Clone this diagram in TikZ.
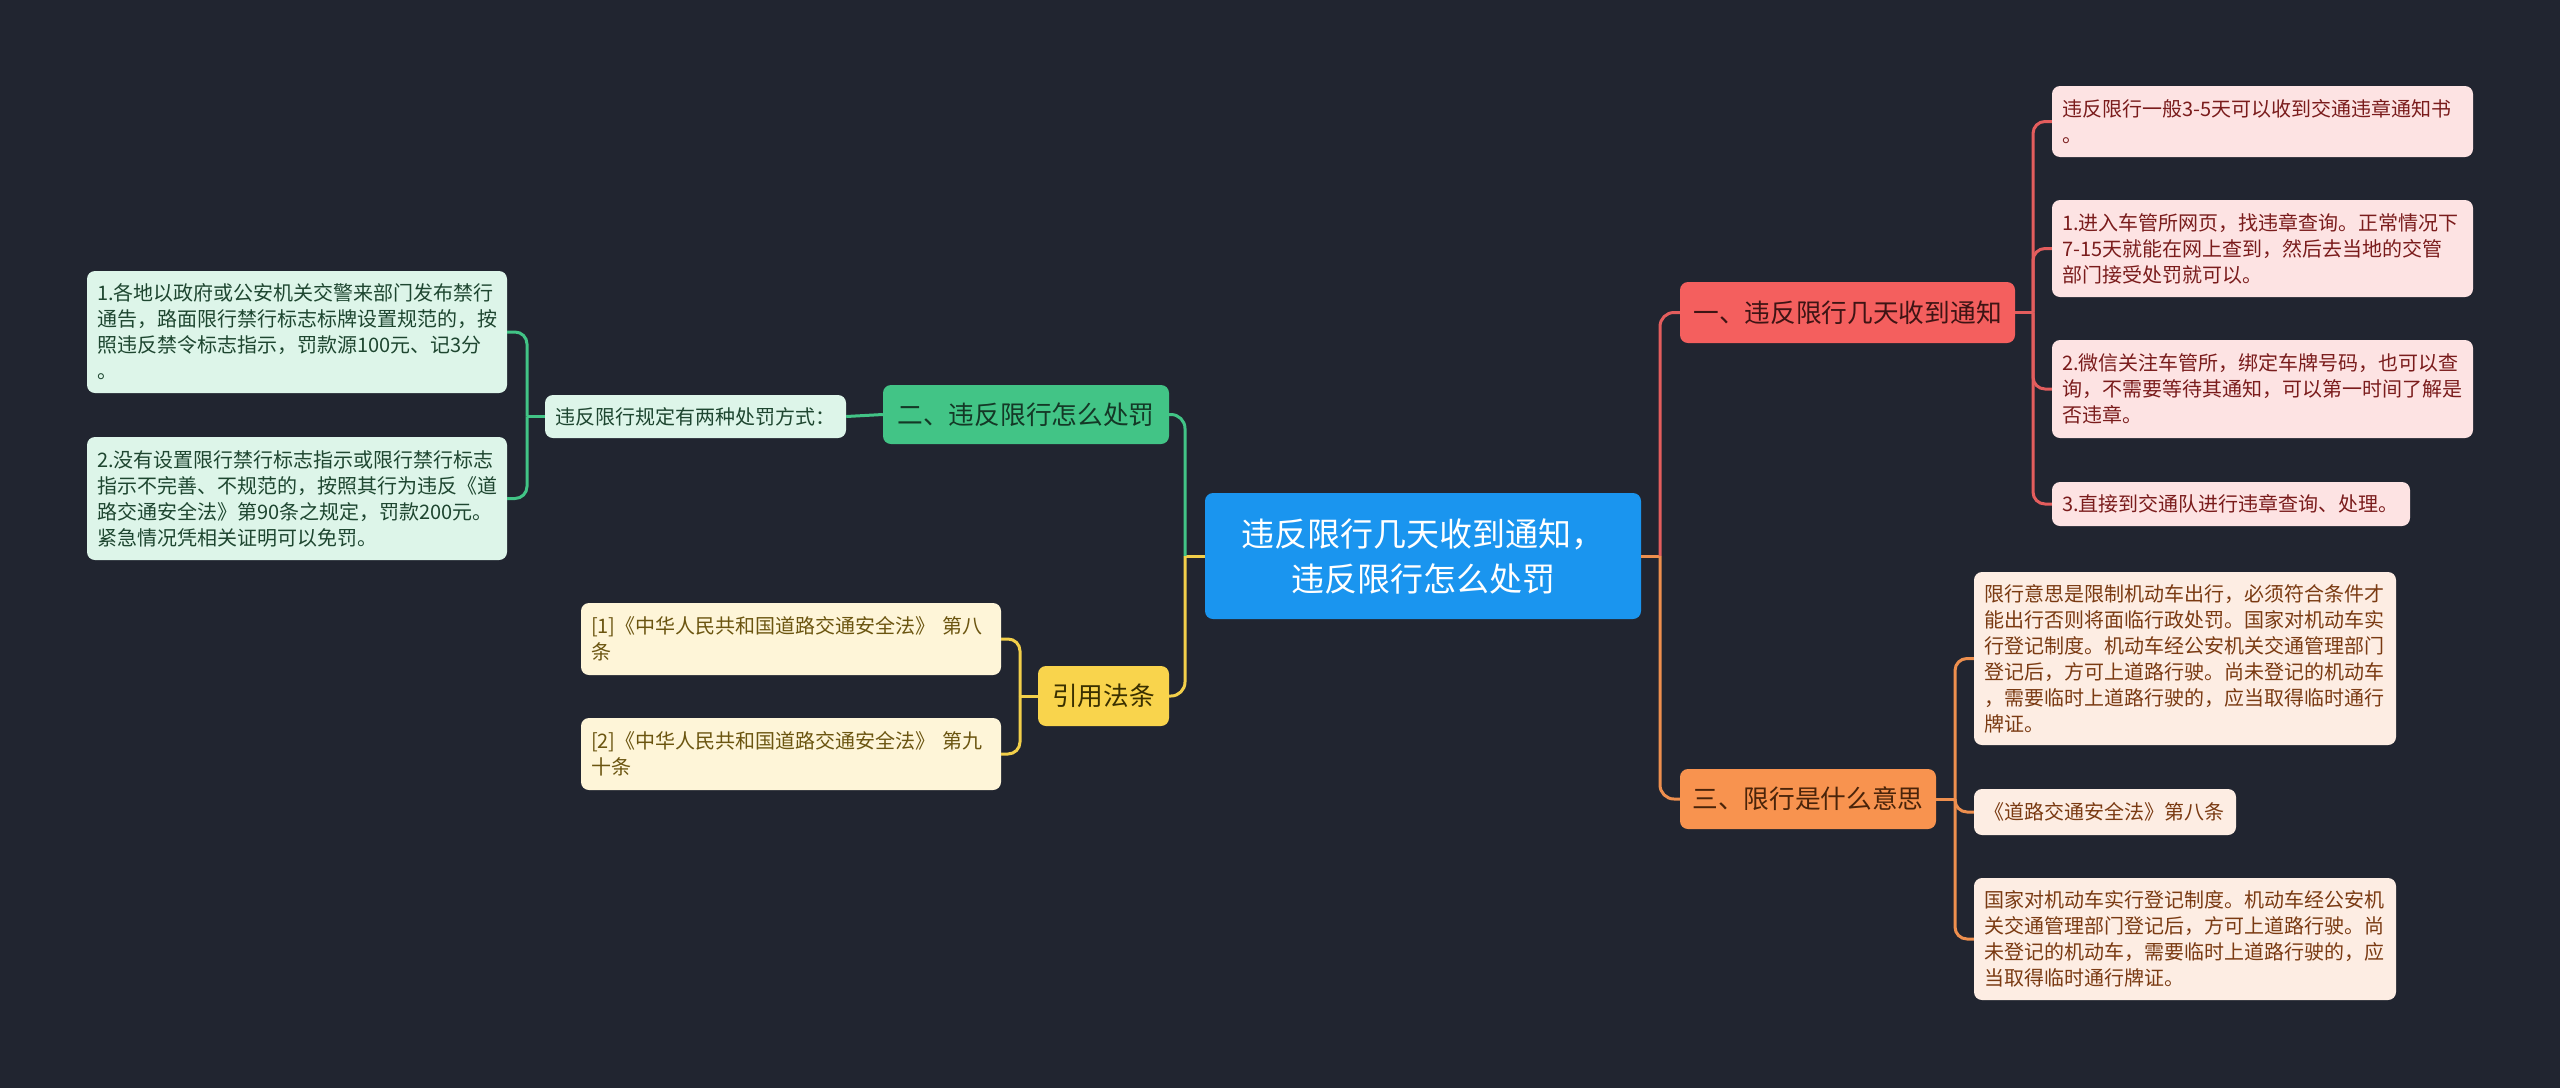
\documentclass[tikz,border=0pt]{standalone}
\usepackage{fontspec}
\setmainfont{Noto Sans CJK SC}
\definecolor{bgc}{HTML}{212530}
\definecolor{cen}{HTML}{1A95EF}
\definecolor{redb}{HTML}{F45F5E}
\definecolor{redt}{HTML}{3E1414}
\definecolor{orab}{HTML}{F8934F}
\definecolor{orat}{HTML}{4A240A}
\definecolor{greb}{HTML}{42C486}
\definecolor{gret}{HTML}{143826}
\definecolor{yelb}{HTML}{F9D44C}
\definecolor{yelt}{HTML}{3A3000}
\definecolor{redc}{HTML}{FDE3E3}
\definecolor{redct}{HTML}{7A1C1C}
\definecolor{orac}{HTML}{FDEDE3}
\definecolor{oract}{HTML}{7A3A12}
\definecolor{grec}{HTML}{DDF5E9}
\definecolor{grect}{HTML}{1E4630}
\definecolor{yelc}{HTML}{FEF5D8}
\definecolor{yelct}{HTML}{6B5510}
\definecolor{redl}{HTML}{E35D5D}
\definecolor{oral}{HTML}{EE8F4E}
\definecolor{grel}{HTML}{42C486}
\definecolor{yell}{HTML}{F2CF4A}
\tikzset{
  box/.style={rounded corners=8pt, inner xsep=10pt, inner ysep=0pt, align=left, anchor=center},
  kid/.style={box, font=\fontsize{20}{26}\selectfont},
  branch/.style={rounded corners=8pt, inner sep=0pt, align=center, font=\fontsize{25.7}{30}\selectfont},
  conn/.style={line width=3pt},
}
\begin{document}
\begin{tikzpicture}[x=1pt,y=-1pt]
\fill[bgc] (0,0) rectangle (2560,1088);
\useasboundingbox (0,0) rectangle (2560,1088);

% center
\node[rounded corners=8pt, fill=cen, text=white, minimum width=436pt, minimum height=126pt, inner sep=0pt, align=center, font=\fontsize{33}{45}\selectfont] (root) at (1423,556) {违反限行几天收到通知，\\违反限行怎么处罚};

% branches
\node[branch, fill=redb, text=redt, minimum width=335pt, minimum height=61pt] (b1) at (1847.5,312.5) {一、违反限行几天收到通知};
\node[branch, fill=orab, text=orat, minimum width=256pt, minimum height=60pt] (b3) at (1808,799) {三、限行是什么意思};
\node[branch, fill=greb, text=gret, minimum width=286pt, minimum height=59pt] (b2) at (1026,414.5) {二、违反限行怎么处罚};
\node[branch, fill=yelb, text=yelt, minimum width=131pt, minimum height=60pt] (b4) at (1103.5,696) {引用法条};

% branch 1 children
\node[kid, fill=redc, text=redct, text width=401pt, minimum height=71pt] (c1) at (2262.5,121.5) {违反限行一般3-5天可以收到交通违章通知书\\。};
\node[kid, fill=redc, text=redct, text width=401pt, minimum height=97pt] (c2) at (2262.5,248.5) {1.进入车管所网页，找违章查询。正常情况下\\7-15天就能在网上查到，然后去当地的交管\\部门接受处罚就可以。};
\node[kid, fill=redc, text=redct, text width=401pt, minimum height=98pt] (c3) at (2262.5,389) {2.微信关注车管所，绑定车牌号码，也可以查\\询，不需要等待其通知，可以第一时间了解是\\否违章。};
\node[kid, fill=redc, text=redct, text width=338pt, minimum height=44pt] (c4) at (2231,504) {3.直接到交通队进行违章查询、处理。};

% branch 3 children
\node[kid, fill=orac, text=oract, text width=402pt, minimum height=173pt] (d1) at (2185,658.5) {限行意思是限制机动车出行，必须符合条件才\\能出行否则将面临行政处罚。国家对机动车实\\行登记制度。机动车经公安机关交通管理部门\\登记后，方可上道路行驶。尚未登记的机动车\\，需要临时上道路行驶的，应当取得临时通行\\牌证。};
\node[kid, fill=orac, text=oract, text width=242pt, minimum height=46pt] (d2) at (2105,812) {《道路交通安全法》第八条};
\node[kid, fill=orac, text=oract, text width=402pt, minimum height=122pt] (d3) at (2185,939) {国家对机动车实行登记制度。机动车经公安机\\关交通管理部门登记后，方可上道路行驶。尚\\未登记的机动车，需要临时上道路行驶的，应\\当取得临时通行牌证。};

% branch 2 children
\node[kid, fill=grec, text=grect, text width=281pt, minimum height=43pt] (s2) at (695.5,416.5) {违反限行规定有两种处罚方式：};
\node[kid, fill=grec, text=grect, text width=400pt, minimum height=122pt] (g1) at (297,332) {1.各地以政府或公安机关交警来部门发布禁行\\通告，路面限行禁行标志标牌设置规范的，按\\照违反禁令标志指示，罚款源100元、记3分\\。};
\node[kid, fill=grec, text=grect, text width=400pt, minimum height=123pt] (g2) at (297,498.5) {2.没有设置限行禁行标志指示或限行禁行标志\\指示不完善、不规范的，按照其行为违反《道\\路交通安全法》第90条之规定，罚款200元。\\紧急情况凭相关证明可以免罚。};

% branch 4 children
\node[kid, fill=yelc, text=yelct, text width=400pt, minimum height=72pt] (y1) at (791,639) {[1]《中华人民共和国道路交通安全法》 第八\\条};
\node[kid, fill=yelc, text=yelct, text width=400pt, minimum height=72pt] (y2) at (791,754) {[2]《中华人民共和国道路交通安全法》 第九\\十条};

% trunk coordinates
\coordinate (tr) at (1660,556);
\coordinate (tl) at (1185,556);
\coordinate (t1) at (2033,312.5);
\coordinate (t3) at (1955,799);
\coordinate (ts) at (527,416.5);
\coordinate (t4) at (1020,696);

% root connectors
\draw[conn, oral] (root.east) -- (tr);
\draw[conn, redl, rounded corners=14pt] (tr) |- (b1.west);
\draw[conn, oral, rounded corners=14pt] (tr) |- (b3.west);
\draw[conn, yell] (root.west) -- (tl);
\draw[conn, grel, rounded corners=14pt] (tl) |- (b2.east);
\draw[conn, yell, rounded corners=14pt] (tl) |- (b4.east);

% branch 1
\draw[conn, redl] (b1.east) -- (t1);
\foreach \n in {c1,c2,c3,c4} \draw[conn, redl, rounded corners=12pt] (t1) |- (\n.west);
% branch 3
\draw[conn, oral] (b3.east) -- (t3);
\foreach \n in {d1,d2,d3} \draw[conn, oral, rounded corners=12pt] (t3) |- (\n.west);
% branch 2
\draw[conn, grel] (b2.west) -- (s2.east);
\draw[conn, grel] (s2.west) -- (ts);
\foreach \n in {g1,g2} \draw[conn, grel, rounded corners=12pt] (ts) |- (\n.east);
% branch 4
\draw[conn, yell] (b4.west) -- (t4);
\foreach \n in {y1,y2} \draw[conn, yell, rounded corners=12pt] (t4) |- (\n.east);
\end{tikzpicture}
\end{document}
